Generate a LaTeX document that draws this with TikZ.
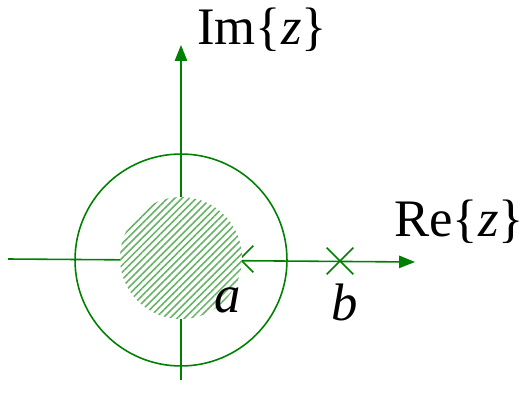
\documentclass[tikz,border=0pt]{standalone}
\usepackage{fontspec}
\setmainfont{Liberation Serif}
\usetikzlibrary{arrows.meta,patterns.meta,shapes.misc}
\definecolor{axisgreen}{RGB}{0,128,0}

\begin{document}
\begin{tikzpicture}[
		x=0.02cm, y=-0.02cm,
		axis/.style={axisgreen, line width=0.9pt, -{Triangle[length=9pt,width=7pt]}},
		pole/.style={cross out, draw=axisgreen, line width=0.9pt, minimum size=0.5cm, inner sep=0pt},
		lbl/.style={font=\fontsize{30}{32}\selectfont, inner sep=0pt}
		]
		
		% Frame
		\useasboundingbox (0,0) rectangle (525,409);
		
		% Parameters
		\coordinate (O) at (181,260);
		\coordinate (xl) at (8,259);
		\coordinate (xr) at (415,262);
		\coordinate (yb) at (181,380);
		\coordinate (yt) at (181,45);
		
		% Draw the axes
		\draw[axis] (xl) -- (xr);
		\draw[axis] (yb) -- (yt);
		
		% Draw the outer circle
		\node[circle, draw=axisgreen, line width=0.9pt, minimum size=4.24cm, inner sep=0pt] (ring) at (O) {};
		
		% Draw the poles
		\node[pole] (pa) at (240,259) {};
		\node[pole] (pb) at (340,261) {};
		
		% Draw the hatched disk
		\node[circle, fill=white, minimum size=2.44cm, inner sep=0pt] (disk) at (181,258) {};
		\fill[pattern={Lines[angle=45, distance=2.9pt, line width=0.9pt]}, pattern color=axisgreen!60] (disk.center) circle[radius=1.22cm];
		
		% Labels
		\node[lbl] (la) at (228,300) {\textit{a}};
		\node[lbl] (lb) at (345,302) {\textit{b}};
		\node[lbl] (re) at (459,222) {Re\{\textit{z}\}};
		\node[lbl] (im) at (262,30) {Im\{\textit{z}\}};
		
	\end{tikzpicture}
\end{document}
